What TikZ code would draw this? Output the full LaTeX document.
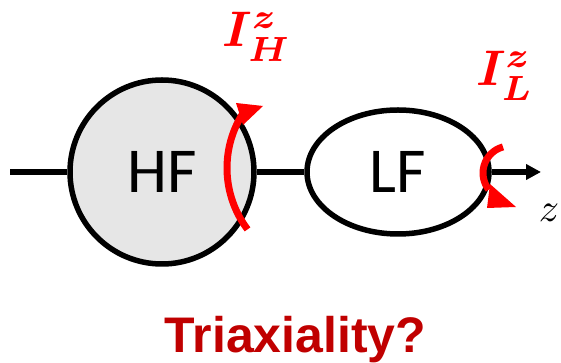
\documentclass[tikz,border=0pt]{standalone}
\usepackage{graphicx}
\usepackage{fontspec}
\newfontfamily\carlito{Carlito}
\newfontfamily\arialb{Liberation Sans}
\usetikzlibrary{arrows.meta,shapes.geometric}
\definecolor{darkred}{HTML}{C00000}
\definecolor{hfgray}{HTML}{E6E6E6}
\tikzset{
  blk/.style={line width=5.5pt, black},
  hfnode/.style={circle, draw, line width=5.5pt, fill=hfgray, minimum size=184pt, inner sep=0pt, font=\carlito\fontsize{64}{70}\selectfont},
  lfnode/.style={ellipse, draw, line width=5.5pt, fill=white, minimum width=182pt, minimum height=124pt, inner sep=0pt, font=\carlito\fontsize{64}{70}\selectfont},
  redarc/.style={red, line width=7pt},
  redhead/.style={fill=red, draw=none},
  curlabel/.style={red, inner sep=0pt},
}
\begin{document}
\begin{tikzpicture}[x=1pt,y=1pt]
\useasboundingbox (0,0) rectangle (561,363);
\coordinate (lend) at (10,191);
\coordinate (zend) at (541,191);
\node[hfnode] (HF) at (162,191) {HF};
\node[lfnode] (LF) at (398,191) {LF};
\draw[blk] (lend) -- (HF.west);
\draw[blk] (HF.east) -- (LF.west);
\draw[blk, -{Triangle[length=15pt,width=15pt]}] (LF.east) -- (zend);
\node[inner sep=0pt] (zlab) at (549,150) {\scalebox{4}{$z$}};
% red rotation arcs
\draw[redarc] (329,195) ++(217:102) arc[start angle=217, end angle=146, radius=102];
\fill[redhead] (236,260) -- (263,257) -- (243,238) -- cycle;
\draw[redarc] (510,190) ++(105:27) arc[start angle=105, end angle=218, radius=27];
\fill[redhead] (490,179) -- (516,156) -- (487,155) -- cycle;
\node[curlabel] (IH) at (257,326) {\scalebox{5}{\boldmath$I_H^z$}};
\node[curlabel] (IL) at (505,287) {\scalebox{5}{\boldmath$I_L^z$}};
\node[anchor=base, inner sep=0pt, text=darkred, font=\arialb\bfseries\fontsize{50}{60}\selectfont] (tri) at (295.5,10) {Triaxiality?};
\end{tikzpicture}
\end{document}
